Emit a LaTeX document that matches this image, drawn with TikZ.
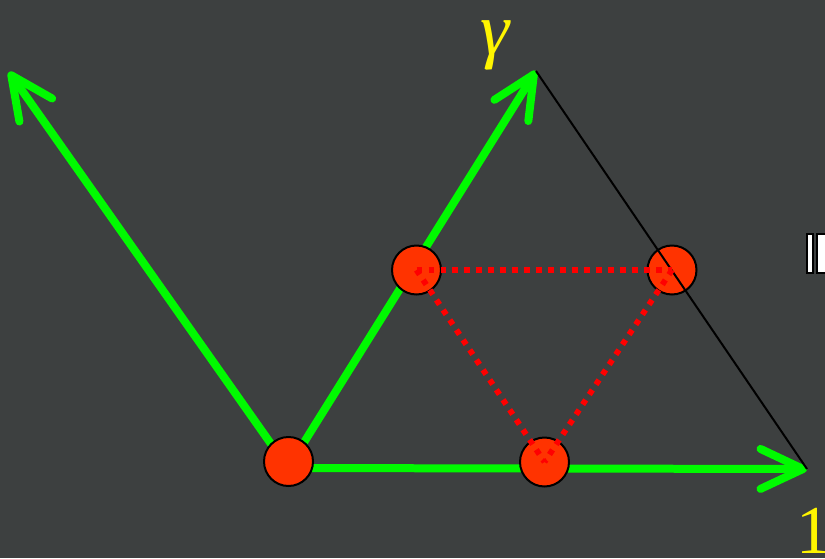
\documentclass[tikz,border=0pt]{standalone}
\usepackage{fontspec}
\setmainfont{Liberation Serif}
\usetikzlibrary{arrows.meta}
\definecolor{slate}{RGB}{61,64,64}
\definecolor{vecgreen}{RGB}{0,250,0}
\definecolor{dotfill}{RGB}{255,51,0}
\definecolor{labelyellow}{RGB}{255,245,0}

\begin{document}
\begin{tikzpicture}[x=0.02cm, y=-0.02cm,
    vec/.style={line width=0.16cm, vecgreen, line cap=round,
        -{Straight Barb[length=0.85cm, width=0.8cm, round]}},
    pt/.style={circle, draw=black, line width=0.04cm, fill=dotfill,
        minimum size=0.98cm, inner sep=0pt},
    link/.style={red, line width=0.115cm, dash pattern=on 0.11cm off 0.13cm},
    lbl/.style={labelyellow, inner sep=0pt}]

    \clip (0,0) rectangle (825,558);
    \fill[slate] (0,0) rectangle (825,558);

    % axes
    \coordinate (O) at (288,468);
    \coordinate (left) at (9,72);
    \coordinate (gtip) at (536,71);
    \coordinate (one) at (807,469);

    \draw[vec] (O) -- (left);
    \draw[vec] (O) -- (gtip);
    \draw[vec] (O) -- (one);

    \node[lbl, font=\fontsize{42}{42}\selectfont\itshape] (gamma) at (495,45) {γ};
    \node[lbl, font=\fontsize{39}{39}\selectfont, anchor=base] (unit) at (814,553) {1};

    % points
    \node[pt] (a) at (288.5,461.5) {};
    \node[pt] (b) at (416.5,270) {};
    \node[pt] (c) at (544.5,462) {};
    \node[pt] (d) at (672,270) {};

    \draw[black, line width=0.04cm] (gtip) -- (one);

    \draw[link] (b.center) -- (d.center);
    \draw[link] (b.center) -- (c.center);
    \draw[link] (d.center) -- (c.center);

    % cut-off text at the edge
    \filldraw[fill=white, draw=black, line width=0.05cm] (807,234) rectangle (813,273);
    \filldraw[fill=white, draw=black, line width=0.05cm] (817,234) rectangle (832,273);

\end{tikzpicture}
\end{document}
